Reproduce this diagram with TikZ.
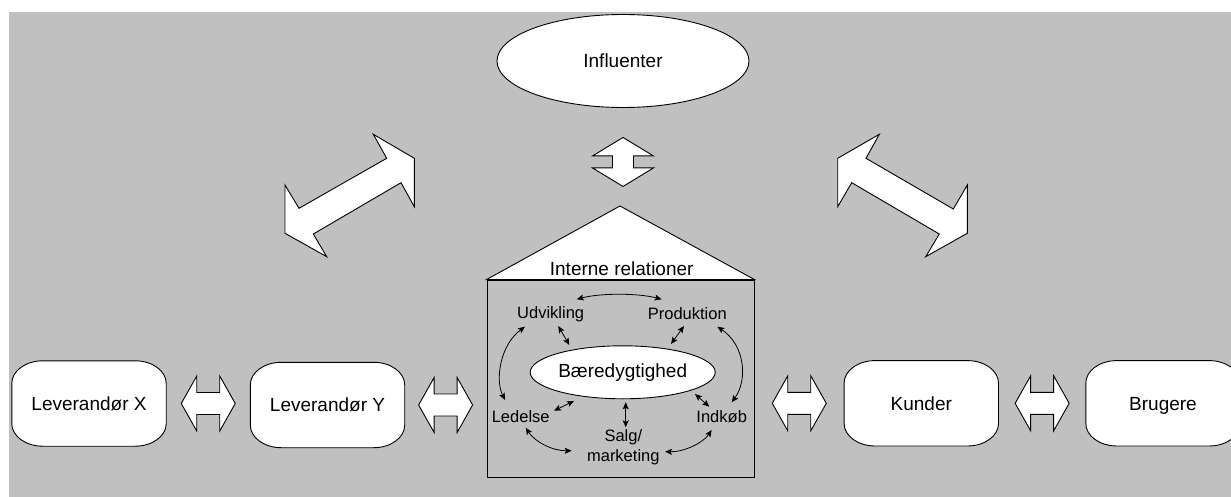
\documentclass[tikz,border=0pt]{standalone}
\usepackage{fontspec}
\setmainfont{Liberation Sans}
\usetikzlibrary{arrows.meta,shapes.geometric,calc}

\definecolor{panel}{HTML}{C0C0C0}
\pgfdeclarelayer{back}
\pgfdeclarelayer{mid}
\pgfsetlayers{back,mid,main}

\tikzset{
  outline/.style={draw=black,line width=0.9pt},
  blockarrow/.style={outline,fill=white,line join=miter},
  mainfont/.style={font=\fontsize{19}{22}\selectfont},
  party/.style={rectangle,minimum width=154pt,minimum height=85pt,mainfont,
    text height=13.6pt,text depth=0pt},
  inner/.style={font=\fontsize{16.5}{20}\selectfont,align=center},
  link/.style={line width=0.8pt,
    {Stealth[length=7pt,width=6pt,inset=1.5pt]}-{Stealth[length=7pt,width=6pt,inset=1.5pt]}},
  % horizontal two-headed block arrow
  hdarrow/.pic={
    \draw[blockarrow] (-27,0) -- (-11.5,-27.5) -- (-11.5,-11) -- (11.5,-11)
      -- (11.5,-27.5) -- (27,0) -- (11.5,27.5) -- (11.5,11) -- (-11.5,11)
      -- (-11.5,27.5) -- cycle;
  },
  % vertical two-headed block arrow
  vdarrow/.pic={
    \draw[blockarrow] (0,-24.5) -- (30.5,-6) -- (10.5,-6) -- (10.5,6)
      -- (30.5,6) -- (0,24.5) -- (-30.5,6) -- (-10.5,6) -- (-10.5,-6)
      -- (-30.5,-6) -- cycle;
  }
}

% white box with elliptical corners (31 x 22.5) around a node
\newcommand\roundbox[1]{%
  \begin{pgfonlayer}{mid}
  \draw[outline,fill=white]
    ([shift={(31,0)}]#1.north west) -- ([shift={(-31,0)}]#1.north east)
    .. controls +(17.1,0) and +(0,-12.4) .. ([shift={(0,22.5)}]#1.north east)
    -- ([shift={(0,-22.5)}]#1.south east)
    .. controls +(0,12.4) and +(17.1,0) .. ([shift={(-31,0)}]#1.south east)
    -- ([shift={(31,0)}]#1.south west)
    .. controls +(-17.1,0) and +(0,12.4) .. ([shift={(0,-22.5)}]#1.south west)
    -- ([shift={(0,22.5)}]#1.north west)
    .. controls +(0,-12.4) and +(-17.1,0) .. cycle;
  \end{pgfonlayer}}

\begin{document}
\begin{tikzpicture}[x=1pt,y=-1pt,every node/.style={inner sep=0pt}]
\useasboundingbox (0,0) rectangle (1231,497);
\clip (0,0) rectangle (1231,497);
\begin{pgfonlayer}{back}
\fill[panel] (9,12) rectangle (1231,497);
\end{pgfonlayer}

% external parties
\node[party] (levx) at (89,403.5) {Leverandør X};
\node[party] (levy) at (327.5,405) {Leverandør Y};
\node[party] (kunder) at (921.3,403.3) {Kunder};
\node[party] (brugere) at (1163,403.3) {Brugere};
\roundbox{levx}
\roundbox{levy}
\roundbox{kunder}
\roundbox{brugere}

% influencers
\node[ellipse,outline,fill=white,minimum width=252pt,minimum height=93pt,mainfont]
  (infl) at (623,61) {Influenter};

% the company as a house
\node[outline,rectangle,minimum width=267pt,minimum height=197pt] (house) at (620.5,378.5) {};
\coordinate (apex) at (620,206);
\draw[outline,fill=white,line join=miter] (house.north west) -- (apex) -- (house.north east) -- cycle;
\node[mainfont] (intern) at (621.7,268.5) {Interne relationer};

% internal functions
\node[ellipse,outline,fill=white,minimum width=185pt,minimum height=53pt,mainfont]
  (bae) at (622.7,372.3) {Bæredygtighed};
\node[inner] (udv) at (550.7,314) {Udvikling};
\node[inner] (prod) at (687.3,313.3) {Produktion};
\node[inner] (led) at (520.7,416.3) {Ledelse};
\node[inner] (ind) at (721.7,416.7) {Indkøb};
\node[inner] (salg) at (623.3,447.5) {Salg/\\marketing};

% internal relations
\draw[link] ([shift={(26,-14.7)}]udv.center) .. controls +(23.3,-6.3) and +(-23.7,-6.3) .. ([shift={(-25.6,-14)}]prod.center);
\draw[link] ([shift={(7.6,12)}]udv.center) -- ([shift={(-53.4,-27.3)}]bae.center);
\draw[link] ([shift={(-3.3,12.7)}]prod.center) -- ([shift={(48.3,-28.3)}]bae.center);
\draw[link] ([shift={(-25.7,12.7)}]udv.center) .. controls +(-25,18.3) and +(-10,-20) .. ([shift={(-15.7,-16.3)}]led.center);
\draw[link] ([shift={(30,13.4)}]prod.center) .. controls +(27.7,18.3) and +(16.3,-22.3) .. ([shift={(10,-14.4)}]ind.center);
\draw[link] ([shift={(33.3,-5.6)}]led.center) -- ([shift={(-48.7,28.7)}]bae.center);
\draw[link] ([shift={(3,30)}]bae.center) -- ([shift={(2.4,-20.2)}]salg.center);
\draw[link] ([shift={(72.3,21.7)}]bae.center) -- ([shift={(-12.4,-10)}]ind.center);
\draw[link] ([shift={(5,11.4)}]led.center) .. controls +(9.3,14.3) and +(-18.7,0.3) .. ([shift={(-51.6,3.2)}]salg.center);
\draw[link] ([shift={(-10,13.3)}]ind.center) .. controls +(-8.7,13) and +(19,0.3) .. ([shift={(41.7,4.2)}]salg.center);

% block arrows between the parties
\pic at ($(levx.east)!0.5!(levx.east -| levy.west)$) {hdarrow};
\pic at ($(levy.east)!0.5!(levy.east -| house.west)$) {hdarrow};
\pic at ($(kunder.west)!0.5!(kunder.west -| house.east)$) {hdarrow};
\pic at ($(kunder.east)!0.5!(kunder.east -| brugere.west)$) {hdarrow};
\pic at ($(infl.south)+(0,54)$) {vdarrow};

% diagonal block arrows towards the influencers
\draw[blockarrow] (373.3,134.3) -- (414.3,158.3) -- (414.3,206.7) -- (401,182.7)
  -- (313.3,234) -- (326.7,256.7) -- (285,233.3) -- (285,185) -- (299,208.3)
  -- (386.7,158.3) -- cycle;
\draw[blockarrow] (879.3,134.3) -- (837.7,158.3) -- (837.7,206.7) -- (851.7,182.7)
  -- (939.3,234) -- (925.7,256.7) -- (967.3,233.3) -- (967.3,185) -- (953.3,209)
  -- (866,158.3) -- cycle;
\end{tikzpicture}
\end{document}
